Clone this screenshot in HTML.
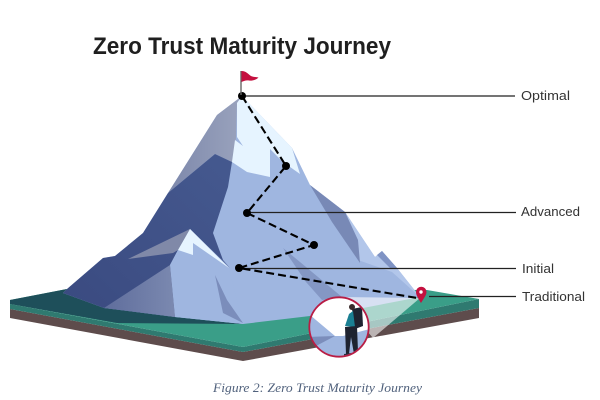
<!DOCTYPE html>
<html><head><meta charset="utf-8"><style>html,body{margin:0;padding:0;background:#fff;width:600px;height:400px;overflow:hidden}svg{display:block}</style></head>
<body>
<svg width="600" height="400" viewBox="0 0 600 400" xmlns="http://www.w3.org/2000/svg">
<defs>
<clipPath id="c"><circle cx="339" cy="327" r="29"/></clipPath>
<linearGradient id="g" x1="0" y1="0" x2="1" y2="0"><stop offset="0" stop-color="#7d88ab"/><stop offset="1" stop-color="#9aa3bd"/></linearGradient>
<linearGradient id="d" x1="0" y1="1" x2="1" y2="0"><stop offset="0" stop-color="#3a4a80"/><stop offset="1" stop-color="#45598f"/></linearGradient>
<linearGradient id="s" x1="0" y1="0" x2="1" y2="0"><stop offset="0" stop-color="#5f6d9c"/><stop offset="1" stop-color="#7b89b0"/></linearGradient>
</defs>
<text x="93" y="54" font-family="'Liberation Sans',sans-serif" font-weight="700" font-size="24" textLength="298" lengthAdjust="spacingAndGlyphs" fill="#1f1f1f">Zero Trust Maturity Journey</text>
<!-- platform -->
<polygon points="10,309 10,318 243,361 479,318 479,308 243,352" fill="#5e4c4c"/>
<polygon points="10,304 10,309 243,352 479,308 479,299 243,347" fill="#2f7a70"/>
<polygon points="10,300 67,289 427,290 479,299 243,347 10,304" fill="#3a9e88"/>
<polygon points="10,300 67,289 104,308 175,317 243,324 117,323 10,304" fill="#1e4f5a"/>
<!-- mountain base -->
<polygon points="242,96 292,148 310,185 345,212 375,257 382,251 397,268 420,297 363,308 310,316 243,324 175,317 104,308 63,293 67,289 103,258 115,256 143,233 168,193 217,115" fill="#9fb6e0"/>
<!-- right ridge lighter -->
<polygon points="345,212 375,257 382,251 397,268 420,297 392,272 358,260" fill="#b2c6ea"/>
<polygon points="310,185 345,212 358,240 360,263 332,222" fill="#7889b6"/>
<polygon points="377,255 382,251 397,268 390,268" fill="#7f93c4"/>
<polygon points="283,248 300,262 342,297 322,300 306,282" fill="#8497c4"/>
<!-- grey upper left -->
<polygon points="242,96 217,115 168,193 215,154 232,162 236,138 237,103" fill="url(#g)"/>
<!-- dark blue -->
<polygon points="168,193 215,154 232,162 228,187 213,233 223,260 230,268 190,229 178,250 170,265 175,317 104,308 63,293 67,289 103,258 115,256 143,233" fill="url(#d)"/>
<!-- small peak -->
<polygon points="128,259 190,229 178,250 173,253" fill="#8089a8"/>
<polygon points="170,265 178,250 193,255 193,243 229,268 243,324 175,317" fill="#9fb6e0"/>
<polygon points="170,265 104,308 175,317" fill="url(#s)"/>
<polygon points="190,229 178,250 193,255 193,243 229,268" fill="#e6f4ff"/>
<polygon points="215,275 227,300 243,323 223,313" fill="#7b8dbb"/>
<!-- snow -->
<polygon points="242,96 237,103 237,137 243,146 235,140 232,162 247,172 270,177 270,149 283,162 300,174 292,148" fill="#e6f4ff"/>
<!-- beam -->
<polygon points="420,298 338,297 373,338" fill="#fff" fill-opacity=".58"/>
<!-- lines -->
<g stroke="#222" stroke-width="1.2" fill="none">
<line x1="242" y1="96" x2="515" y2="96"/>
<line x1="247" y1="212.5" x2="516" y2="212.5"/>
<line x1="239" y1="268.5" x2="516" y2="268.5"/>
<line x1="429" y1="296.5" x2="516" y2="296.5"/>
</g>
<polyline points="242,96 286,166 247,213 314,245 239,268 417,298" fill="none" stroke="#000" stroke-width="2.1" stroke-dasharray="8 4"/>
<g fill="#000"><circle cx="242" cy="96" r="4"/><circle cx="286" cy="166" r="4"/><circle cx="247" cy="213" r="4"/><circle cx="314" cy="245" r="4"/><circle cx="239" cy="268" r="4"/></g>
<!-- flag -->
<line x1="241" y1="71" x2="241" y2="95" stroke="#666" stroke-width="1.4"/>
<path d="M241.5,71 C246,71 248,74 251,76 C253,77 256,77 258.5,77.5 C256,80 252,81 249,80.5 C246,80 244,81 241.5,82Z" fill="#c4103f"/>
<!-- pin -->
<path d="M421,303 C418,298 416,295 416,292 A5.2,5.2 0 1 1 426.5,292 C426.5,295 424,298 421,303Z" fill="#c4103f"/>
<circle cx="421" cy="292" r="1.7" fill="#fff"/>
<!-- inset circle -->
<circle cx="339" cy="327" r="30" fill="#fff"/>
<g clip-path="url(#c)">
<polygon points="310,315 335,336 343,336 370,329 370,360 305,360 305,315" fill="#9fb6e0"/>
<polygon points="308,337 335,336 316,346 305,348" fill="#7b8dbb"/>
<polygon points="352,309 362,307 363,326 355,329" fill="#1e2330"/>
<polygon points="345,326 349,314 353,311 355,327" fill="#1a7f92"/>
<polygon points="345,327 357,326 358,352 354,354 351,337 349,354 346,354" fill="#1e2330"/>
<circle cx="352" cy="307" r="3" fill="#3a2a2a"/>
<polygon points="344,354 358,352 358,355 344,356" fill="#2c3040"/>
</g>
<circle cx="339" cy="327" r="29.7" fill="none" stroke="#b81d45" stroke-width="1.8"/>
<!-- labels -->
<g font-family="'Liberation Sans',sans-serif" font-size="13" fill="#333">
<text x="521" y="100" textLength="49" lengthAdjust="spacingAndGlyphs">Optimal</text>
<text x="521" y="216" textLength="59" lengthAdjust="spacingAndGlyphs">Advanced</text>
<text x="522" y="273" textLength="32" lengthAdjust="spacingAndGlyphs">Initial</text>
<text x="522" y="301" textLength="63" lengthAdjust="spacingAndGlyphs">Traditional</text>
</g>
<text x="213" y="392" font-family="'Liberation Serif',serif" font-style="italic" font-size="13" fill="#50617c" textLength="209" lengthAdjust="spacingAndGlyphs">Figure 2: Zero Trust Maturity Journey</text>
</svg>
</body></html>
